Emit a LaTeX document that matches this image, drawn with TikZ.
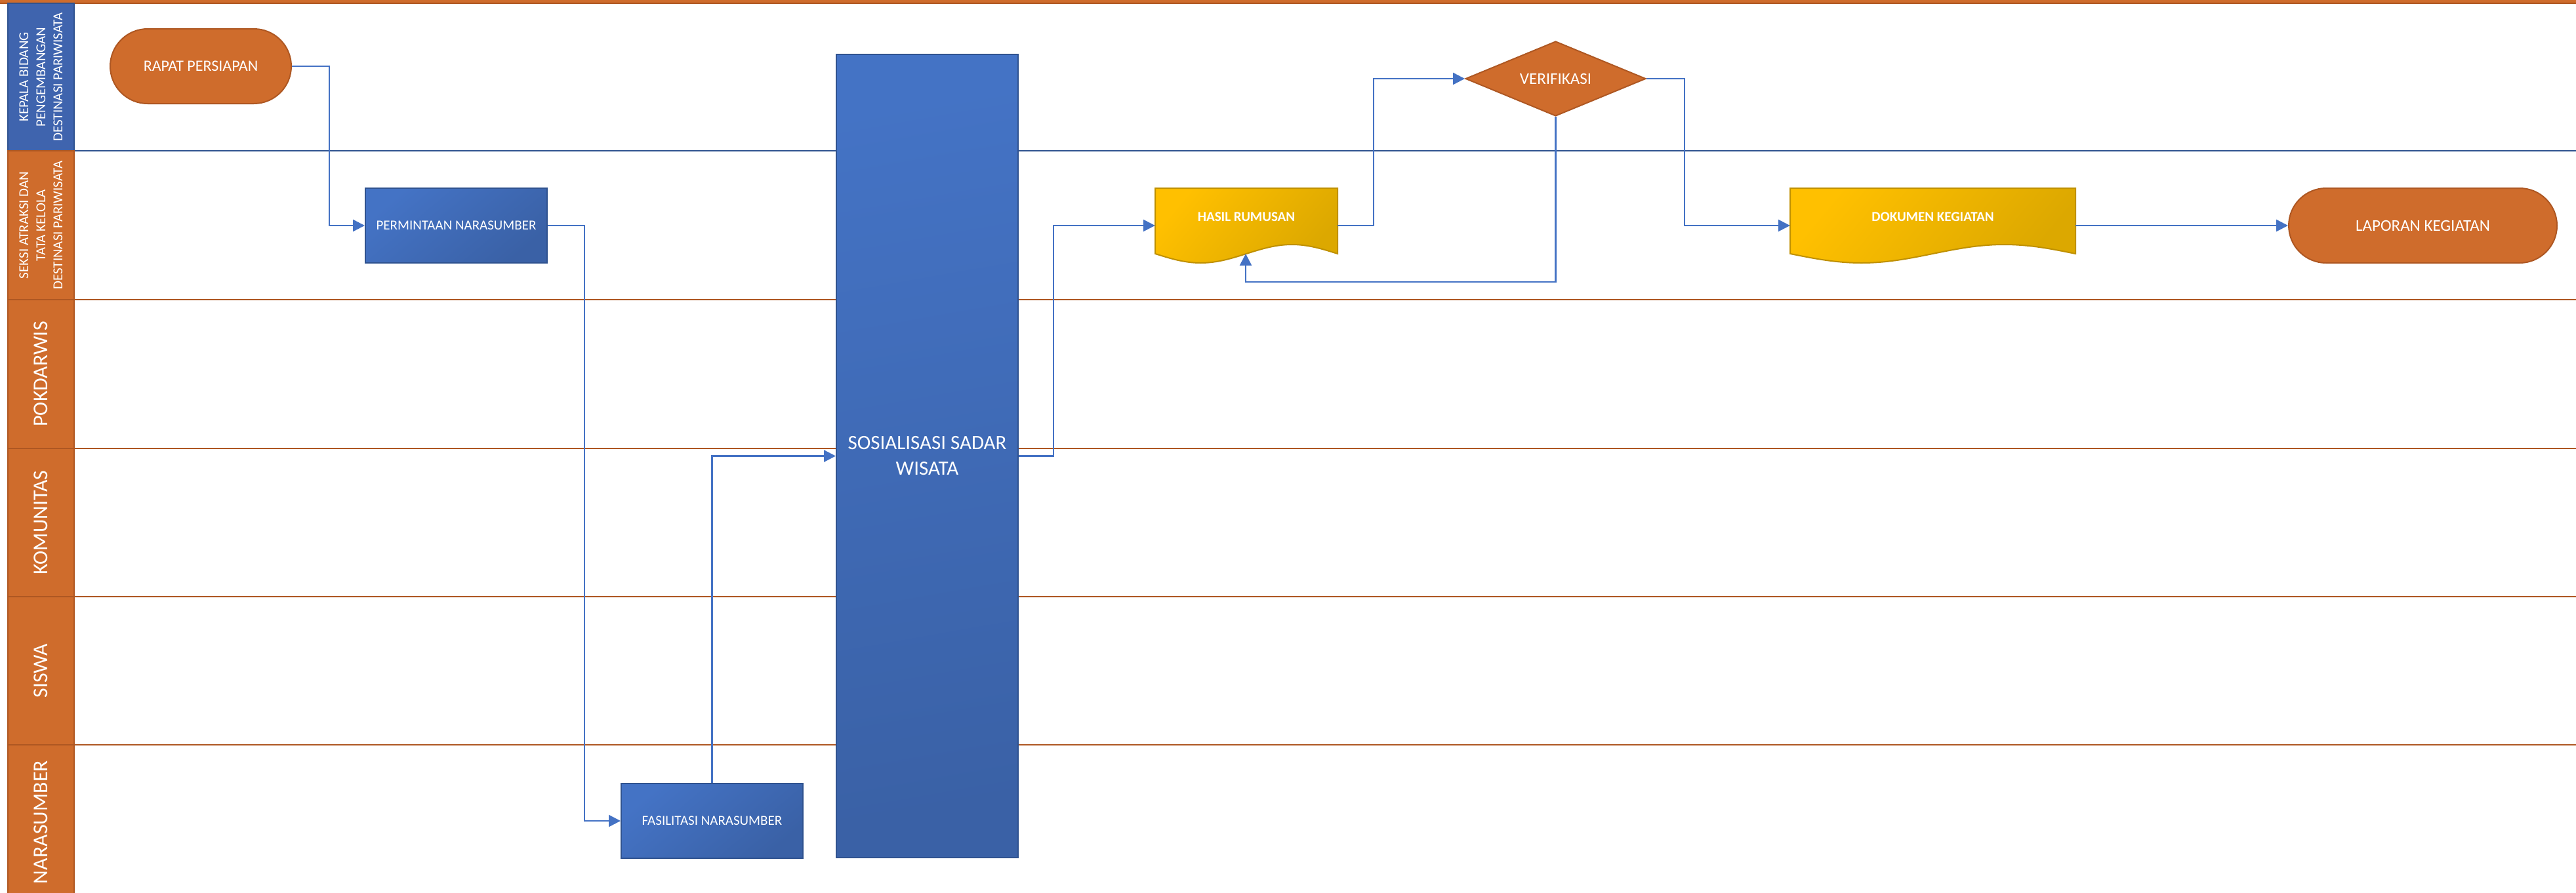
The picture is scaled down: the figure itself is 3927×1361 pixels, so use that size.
\documentclass[tikz,border=0pt]{standalone}
\usepackage{fontspec}
\setmainfont{Carlito}
\usetikzlibrary{shapes.geometric,shapes.misc,arrows.meta}
\definecolor{orng}{HTML}{CF6C2C}
\definecolor{orngdk}{HTML}{AE5722}
\definecolor{blu}{HTML}{3F64AE}
\definecolor{bludk}{HTML}{2F528F}
\definecolor{boxL}{HTML}{4473C5}
\definecolor{boxR}{HTML}{3A61A6}
\definecolor{conn}{HTML}{4472C4}
\definecolor{goldL}{HTML}{FFC000}
\definecolor{goldR}{HTML}{DCA800}
\definecolor{golddk}{HTML}{BF9000}
\tikzset{
  lanehead/.style={rectangle, draw=orngdk, fill=orng, line width=2pt, inner sep=0pt,
    text=white, align=center, rotate=90, minimum height=101pt},
  laneline/.style={draw=orngdk, line width=2.5pt},
  procbox/.style={rectangle, draw=bludk, line width=2pt, top color=boxL, bottom color=boxR,
    shading angle=40, minimum width=277pt, minimum height=114pt, inner sep=0pt,
    text=white, font=\fontsize{21}{25}\selectfont},
  termbox/.style={rounded rectangle, fill=orng, draw=orngdk, line width=2pt,
    minimum height=114pt, inner sep=0pt, text=white, font=\fontsize{25}{30}\selectfont},
  docshape/.style={draw=golddk, line width=2pt, top color=goldL, bottom color=goldR, shading angle=50},
  docbox/.style={rectangle, minimum height=114pt, inner sep=0pt},
  doclabel/.style={text=white, font=\bfseries\fontsize{21}{25}\selectfont, inner sep=0pt},
  flow/.style={draw=conn, line width=2.5pt, -{Triangle[length=18pt,width=18pt]}},
  flowline/.style={draw=conn, line width=2.5pt}
}
\begin{document}
\begin{tikzpicture}[x=1pt,y=-1pt]
\useasboundingbox (0,0) rectangle (3927,1361);
\fill[white] (0,0) rectangle (3927,1361);
% top band
\fill[orng] (0,0) rectangle (3927,5);
\draw[orngdk, line width=1.5pt] (0,5) -- (3927,5);

% lane separators
\draw[bludk, line width=2.5pt] (113,230) -- (3927,230);
\draw[laneline] (113,457) -- (3927,457);
\draw[laneline] (113,684) -- (3927,684);
\draw[laneline] (113,910) -- (3927,910);
\draw[laneline] (113,1136) -- (3927,1136);

% lane headers
\node[lanehead, draw=bludk, fill=blu, minimum width=225pt, font=\fontsize{21}{26}\selectfont] (h1) at (62.5,117.5)
  {KEPALA BIDANG\\PENGEMBANGAN\\DESTINASI PARIWISATA};
\node[lanehead, minimum width=227pt, font=\fontsize{21}{26}\selectfont] (h2) at (62.5,343.5)
  {SEKSI ATRAKSI DAN\\TATA KELOLA\\DESTINASI PARIWISATA};
\node[lanehead, minimum width=227pt, font=\fontsize{32}{38}\selectfont] (h3) at (62.5,570.5) {POKDARWIS};
\node[lanehead, minimum width=226pt, font=\fontsize{32}{38}\selectfont] (h4) at (62.5,797) {KOMUNITAS};
\node[lanehead, minimum width=226pt, font=\fontsize{32}{38}\selectfont] (h5) at (62.5,1023) {SISWA};
\node[lanehead, minimum width=236pt, font=\fontsize{32}{38}\selectfont] (h6) at (62.5,1254) {NARASUMBER};

% shapes
\node[termbox, minimum width=276pt, font=\fontsize{24}{29}\selectfont] (rapat) at (306,101) {RAPAT PERSIAPAN};
\node[procbox] (perm) at (695.5,344) {PERMINTAAN NARASUMBER};
\node[procbox] (fas) at (1085.5,1252) {FASILITASI NARASUMBER};
\node[procbox, minimum height=1225pt, shading angle=10, font=\fontsize{31}{39}\selectfont, align=center] (sos) at (1413.5,695.5)
  {SOSIALISASI SADAR\\WISATA};

% documents
\path[docshape] (1761,287) -- (2039,287) -- (2039,387) sin (1969.5,373) cos (1900,387)
  sin (1830.5,401) cos (1761,387) -- cycle;
\node[docbox, minimum width=278pt] (hasil) at (1900,344) {};
\node[doclabel] (hasilT) at (1900,331) {HASIL RUMUSAN};
\coordinate (hasilwave) at (1899,387);

\path[docshape] (2729,287) -- (3164,287) -- (3164,387) sin (3055.25,373) cos (2946.5,387)
  sin (2837.75,401) cos (2729,387) -- cycle;
\node[docbox, minimum width=435pt] (dok) at (2946.5,344) {};
\node[doclabel] (dokT) at (2946.5,331) {DOKUMEN KEGIATAN};

\node[diamond, shape aspect=2.4, fill=orng, draw=orngdk, line width=2pt, minimum width=275pt, minimum height=114pt,
  inner sep=0pt, text=white, font=\fontsize{25}{30}\selectfont] (ver) at (2371.5,120) {VERIFIKASI};

\node[termbox, minimum width=409pt] (lap) at (3693.5,344) {LAPORAN KEGIATAN};

% connectors
\draw[flow] (rapat.east) -- ++(57,0) |- (perm.west);
\draw[flow] (perm.east) -- ++(56,0) |- (fas.west);
\draw[flow] (fas.north) |- (sos.west);
\draw[flow] (sos.east) -- ++(53,0) |- (hasil.west);
\draw[flow] (hasil.east) -- ++(55,0) |- (ver.west);
\draw[flow] (ver.south) -- ++(0,252) -| (hasilwave);
\draw[flow] (ver.east) -- ++(58,0) |- (dok.west);
\draw[flow] (dok.east) -- (lap.west);
\end{tikzpicture}
\end{document}
